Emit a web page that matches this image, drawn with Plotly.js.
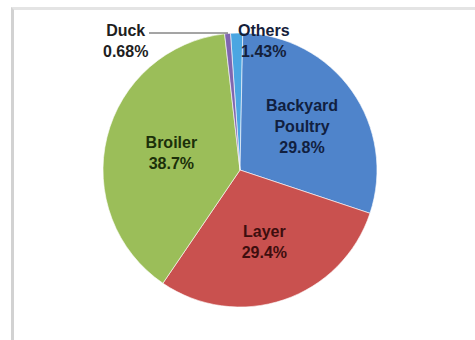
<!DOCTYPE html>
<html>
<head>
<meta charset="utf-8">
<script src="https://cdn.plot.ly/plotly-3.0.1.min.js"></script>
<style>
  html, body { margin: 0; padding: 0; background: #ffffff; }
  #wrap { position: relative; width: 475px; height: 340px; overflow: hidden; }
  #frame { position: absolute; left: 11px; top: 7px; width: 480px; height: 350px;
           border-left: 3px solid #d2d2d2; border-top: 3px solid #e4e4e4; box-sizing: border-box; }
  #chart { position: absolute; left: 0; top: 0; width: 475px; height: 340px; }
</style>
</head>
<body>
<div id="wrap">
  <div id="frame"></div>
  <div id="chart"></div>
</div>
<script>
// Data (clockwise from the top)
const categories = ['Others', 'Backyard Poultry', 'Layer', 'Broiler', 'Duck'];
const shares = [1.43, 29.8, 29.4, 38.7, 0.68];
const shareLabels = ['1.43%', '29.8%', '29.4%', '38.7%', '0.68%'];
const sliceColors = ['#4ba6e2', '#4f84cb', '#c9514f', '#9bbe59', '#7f66b0'];
const insideTextColors = ['#0f1f33', '#112040', '#3e0e0e', '#1c300a', '#222222'];

// inside labels only for large slices; small slices are labelled outside
const insideText = categories.map((c, i) =>
  shares[i] >= 5 ? '<b>' + c.replace(' ', '<br>') + '<br>' + shareLabels[i] + '</b>' : '');

const trace = {
  type: 'pie',
  labels: categories,
  values: shares,
  text: insideText,
  textinfo: 'text',
  textposition: 'inside',
  insidetextorientation: 'horizontal',
  insidetextfont: { family: 'Liberation Sans, Arial, sans-serif', size: 16, color: insideTextColors },
  sort: false,
  direction: 'clockwise',
  rotation: -4,
  hole: 0,
  marker: { colors: sliceColors, line: { color: 'rgba(255,255,255,0.6)', width: 1 } },
  showlegend: false,
  hoverinfo: 'label+percent'
};

// plot area: x 40..440, y 33..307 (pixels)
const L = 40, R = 35, T = 33, B = 33, W = 475, H = 340;
const px2x = p => (p - L) / (W - L - R);
const py2y = p => (H - B - p) / (H - T - B);

const labelFont = c => ({ family: 'Liberation Sans, Arial, sans-serif', size: 16, color: c });
const annotations = [
  {
    text: '<b>' + categories[4] + '</b><br><b>' + shareLabels[4] + '</b>',
    xref: 'paper', yref: 'paper', x: px2x(125), y: py2y(41),
    xanchor: 'center', yanchor: 'middle',
    showarrow: false, font: labelFont('#1e1e1e')
  },
  {
    text: '<b>' + categories[0] + '</b><br><b>' + shareLabels[0] + '</b>',
    xref: 'paper', yref: 'paper', x: px2x(264), y: py2y(41),
    xanchor: 'center', yanchor: 'middle',
    showarrow: false, font: labelFont('#14203a')
  }
];

const shapes = [
  { type: 'line', xref: 'paper', yref: 'paper', x0: px2x(149), y0: py2y(33), x1: px2x(228), y1: py2y(33),
    line: { color: '#4a4a4a', width: 1 } }
];

const layout = {
  width: W, height: H,
  margin: { l: L, r: R, t: T, b: B, pad: 0 },
  paper_bgcolor: 'rgba(0,0,0,0)',
  plot_bgcolor: 'rgba(0,0,0,0)',
  font: { family: 'Liberation Sans, Arial, sans-serif', size: 16 },
  annotations: annotations,
  shapes: shapes
};

Plotly.newPlot('chart', [trace], layout, { staticPlot: true, displayModeBar: false });
</script>
</body>
</html>
